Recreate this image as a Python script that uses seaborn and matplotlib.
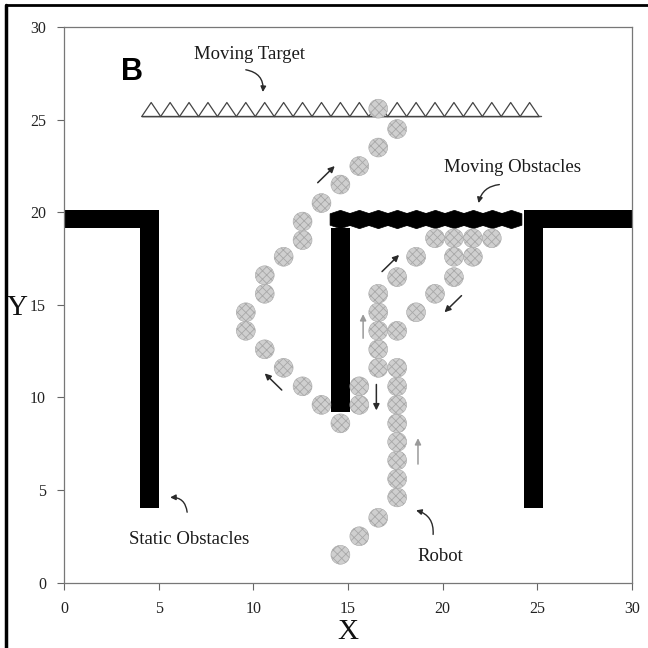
import numpy as np
import pandas as pd
import matplotlib
matplotlib.use("Agg")
import matplotlib.pyplot as plt
from matplotlib.lines import Line2D
import seaborn as sns

# ---------------- data ----------------
robot_x = [14.6, 15.6, 16.6, 17.6, 17.6, 17.6, 17.6, 17.6, 17.6, 17.6, 17.6,
           16.6, 16.6, 16.6, 16.6, 16.6, 17.6, 18.6, 19.6, 20.6, 21.6, 22.6,
           21.6, 20.6, 20.6, 19.6, 18.6, 17.6,
           15.6, 15.6, 14.6, 13.6, 12.6, 11.6, 10.6, 9.6, 9.6, 10.6, 10.6,
           11.6, 12.6, 12.6, 13.6, 14.6, 15.6, 16.6, 17.6, 16.6]
robot_y = [1.5, 2.5, 3.5, 4.6, 5.6, 6.6, 7.6, 8.6, 9.6, 10.6, 11.6,
           11.6, 12.6, 13.6, 14.6, 15.6, 16.5, 17.6, 18.6, 18.6, 18.6, 18.6,
           17.6, 17.6, 16.5, 15.6, 14.6, 13.6,
           10.6, 9.6, 8.6, 9.6, 10.6, 11.6, 12.6, 13.6, 14.6, 15.6, 16.6,
           17.6, 18.5, 19.5, 20.5, 21.5, 22.5, 23.5, 24.5, 25.6]

target_x = [4.6, 5.6, 6.6, 7.6, 8.6, 9.6, 10.6, 11.6, 12.6, 13.6, 14.6,
            15.6, 16.6, 17.6, 18.6, 19.6, 20.6, 21.6, 22.6, 23.6, 24.6]
target_y = [25.55] * len(target_x)
target_line_x = [4.1, 25.2]
target_line_y = [25.2, 25.2]

mov_obs_x = [14.6, 15.6, 16.6, 17.6, 18.6, 19.6, 20.6, 21.6, 22.6, 23.6]
mov_obs_y = [19.65] * len(mov_obs_x)

# static obstacles: left, width, bottom, height
obs_left = [0.0, 4.0, 14.1, 24.3, 24.3]
obs_width = [5.0, 1.0, 1.0, 1.0, 5.7]
obs_bottom = [19.15, 4.05, 9.2, 4.05, 19.15]
obs_height = [0.95, 16.0, 9.95, 16.0, 0.95]

# direction arrows: (x_start, y_start, x_end, y_end, shade)
arr_x0 = [13.4, 16.8, 15.8, 16.5, 11.5, 18.7, 21.0]
arr_y0 = [21.6, 16.8, 13.2, 10.7, 10.4, 6.4, 15.5]
arr_x1 = [14.3, 17.7, 15.8, 16.5, 10.6, 18.7, 20.1]
arr_y1 = [22.5, 17.7, 14.5, 9.3, 11.3, 7.8, 14.6]
arr_shade = ["dark", "dark", "light", "dark", "dark", "light", "dark"]

labels = ["Moving Target", "Moving Obstacles", "Static Obstacles", "Robot"]
label_x = [9.8, 23.7, 6.6, 19.9]
label_y = [28.5, 22.4, 2.3, 1.4]
lab_arr_x0 = [9.6, 23.0, 6.5, 19.5]
lab_arr_y0 = [27.7, 21.5, 3.8, 2.6]
lab_arr_x1 = [10.5, 21.9, 5.6, 18.6]
lab_arr_y1 = [26.5, 20.5, 4.6, 3.9]
lab_rad = [-0.45, 0.35, 0.45, 0.4]

ticks = [0, 5, 10, 15, 20, 25, 30]

# ---------------- style ----------------
sns.set_style("ticks")
plt.rcParams["font.family"] = ["Liberation Serif", "DejaVu Serif"]
plt.rcParams["hatch.linewidth"] = 0.6

fig = plt.figure(figsize=(6.48, 6.48), dpi=100)
ax = fig.add_axes([0.099, 0.101, 0.876, 0.857])

# static obstacles
ax.bar(obs_left, obs_height, width=obs_width, bottom=obs_bottom,
       align="edge", color="black", edgecolor="black", linewidth=0, zorder=2)

# moving obstacles (hexagon chain)
hex_verts = [(0, 0.88), (1, 0.55), (1, -0.55), (0, -0.88), (-1, -0.55), (-1, 0.55), (0, 0.88)]
sns.scatterplot(x=mov_obs_x, y=mov_obs_y, marker=hex_verts, s=225,
                color="black", edgecolor="black", linewidth=0.5, ax=ax, zorder=3)

# moving target
ax.plot(target_line_x, target_line_y, color="#555555", lw=1.0, zorder=3)
tri_verts = [(-1, -0.74), (0, 0.74), (1, -0.74), (-1, -0.74)]
sns.scatterplot(x=target_x, y=target_y, marker=tri_verts, s=190,
                facecolor="none", edgecolor="#444444", linewidth=0.9, ax=ax, zorder=3)

# robot (stippled grey discs)
robot_df = pd.DataFrame({"x": robot_x, "y": robot_y})
sns.scatterplot(data=robot_df, x="x", y="y", marker="o", s=185,
                color="#cfcfcf", edgecolor="#a8a8a8", linewidth=0.4,
                hatch="xxxx", ax=ax, zorder=4)

# direction arrows
for x0, y0, x1, y1, sh in zip(arr_x0, arr_y0, arr_x1, arr_y1, arr_shade):
    c = "#2a2a2a" if sh == "dark" else "#9a9a9a"
    ax.annotate("", xy=(x1, y1), xytext=(x0, y0),
                arrowprops=dict(arrowstyle="-|>", color=c, lw=1.1,
                                mutation_scale=9, shrinkA=0, shrinkB=0), zorder=5)

# labels with curved arrows
for t, tx, ty, ax0, ay0, ax1, ay1, r in zip(labels, label_x, label_y, lab_arr_x0,
                                           lab_arr_y0, lab_arr_x1, lab_arr_y1, lab_rad):
    ax.text(tx, ty, t, ha="center", va="center", fontsize=13.5, color="#1a1a1a", zorder=6)
    ax.annotate("", xy=(ax1, ay1), xytext=(ax0, ay0),
                arrowprops=dict(arrowstyle="-|>", color="#2a2a2a", lw=1.0,
                                mutation_scale=8, shrinkA=0, shrinkB=0,
                                connectionstyle=f"arc3,rad={r}"), zorder=6)

ax.text(3.6, 27.6, "B", fontsize=22, fontweight="bold", ha="center", va="center",
        family=["Liberation Sans", "DejaVu Sans"], color="black")

ax.set_xlim(0, 30)
ax.set_ylim(0, 30)
ax.set_xticks(ticks)
ax.set_yticks(ticks)
ax.set_xticklabels([str(t) for t in ticks], fontsize=11.5, color="#222222")
ax.set_yticklabels([str(t) for t in ticks], fontsize=11.5, color="#222222")
ax.tick_params(direction="out", length=5, width=0.8, color="#666666", pad=8)
for sp in ax.spines.values():
    sp.set_color("#777777")
    sp.set_linewidth(0.9)
ax.set_xlabel("X", fontsize=21, labelpad=2, color="#111111")
ax.set_ylabel("Y", fontsize=21, rotation=0, color="#111111", va="center", ha="center")
ax.yaxis.set_label_coords(-0.082, 0.495)

# outer frame (left and top edges of the scanned figure)
fig.add_artist(Line2D([0.009, 0.009], [0.0, 0.992], transform=fig.transFigure,
                      color="black", lw=2.5))
fig.add_artist(Line2D([0.009, 1.0], [0.992, 0.992], transform=fig.transFigure,
                      color="black", lw=2.0))

fig.savefig("out.png", dpi=100, facecolor="white")
